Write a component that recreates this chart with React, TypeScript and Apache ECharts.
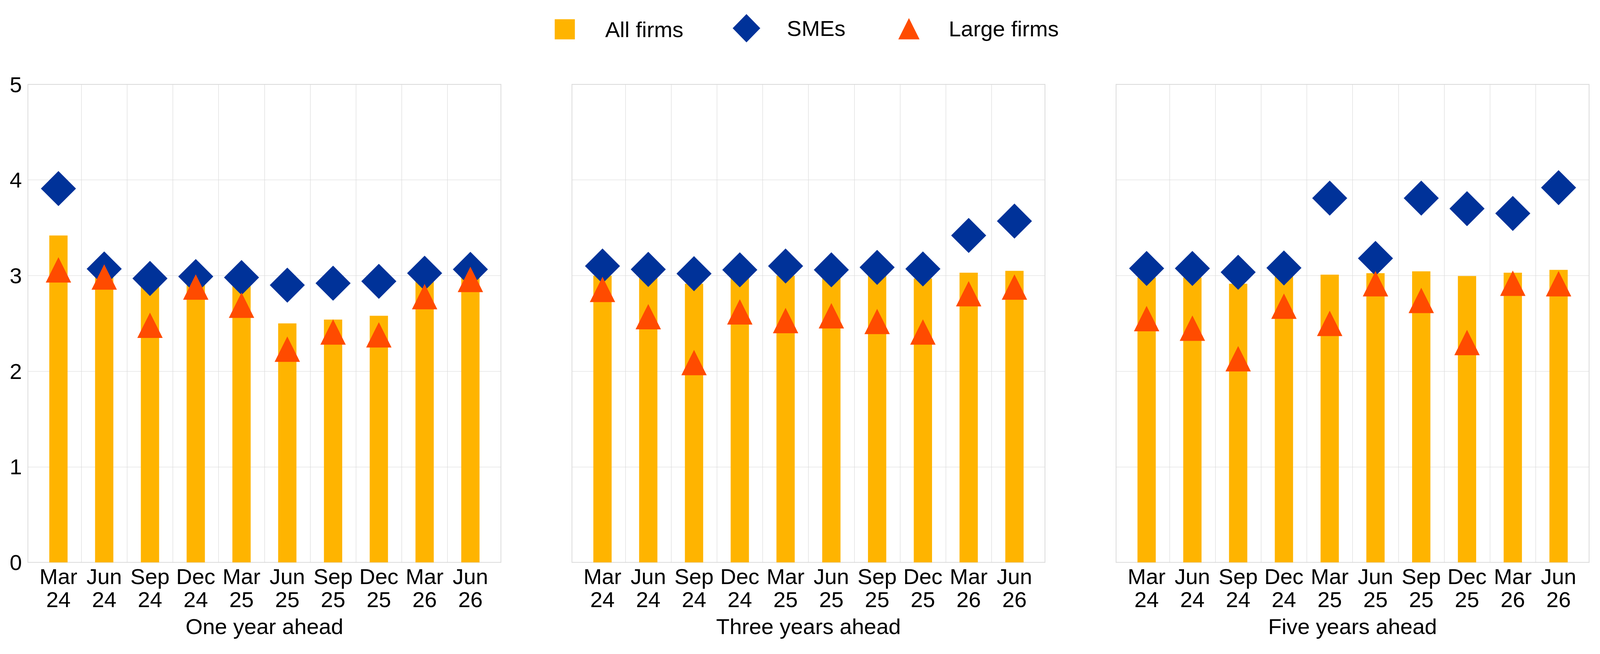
import React, { useRef, useEffect } from 'react';
import * as echarts from 'echarts';

// Survey: expected growth of selling prices, by firm size
const categories = ['Mar 24', 'Jun 24', 'Sep 24', 'Dec 24', 'Mar 25', 'Jun 25', 'Sep 25', 'Dec 25', 'Mar 26', 'Jun 26'];
const panelNames = ['One year ahead', 'Three years ahead', 'Five years ahead'];
const yTicks = [0, 1, 2, 3, 4, 5];

// one year ahead
const allFirms1 = [3.42, 2.98, 2.9, 2.93, 2.9, 2.5, 2.54, 2.58, 2.95, 3.0];
const smes1 = [3.91, 3.07, 2.97, 2.99, 2.98, 2.9, 2.92, 2.94, 3.025, 3.065];
const large1 = [3.06, 2.985, 2.48, 2.88, 2.69, 2.23, 2.41, 2.38, 2.78, 2.96];

// three years ahead
const allFirms3 = [3.0, 2.98, 2.915, 2.98, 3.0, 2.98, 3.0, 2.97, 3.03, 3.05];
const smes3 = [3.1, 3.065, 3.02, 3.06, 3.1, 3.06, 3.086, 3.07, 3.42, 3.57];
const large3 = [2.855, 2.57, 2.09, 2.62, 2.53, 2.58, 2.52, 2.41, 2.81, 2.88];

// five years ahead
const allFirms5 = [2.98, 2.98, 2.915, 2.99, 3.01, 3.025, 3.045, 2.995, 3.03, 3.06];
const smes5 = [3.075, 3.075, 3.035, 3.08, 3.81, 3.18, 3.81, 3.7, 3.65, 3.92];
const large5 = [2.55, 2.45, 2.13, 2.68, 2.5, 2.915, 2.74, 2.3, 2.92, 2.915];

const panels = [
  { all: allFirms1, sme: smes1, large: large1 },
  { all: allFirms3, sme: smes3, large: large3 },
  { all: allFirms5, sme: smes5, large: large5 },
];

const YELLOW = '#FFB400';
const BLUE = '#003299';
const ORANGE = '#FF4B00';
const GRID = '#d9d9d9';
const FONT = '"Liberation Sans", Arial, sans-serif';

// layout is measured on a 4289 x 1674 picture and scaled to the real viewport
const REF_W = 4289;
const REF_H = 1674;

export default function App() {
  const chartRef = useRef<HTMLDivElement>(null);

  useEffect(() => {
    if (!chartRef.current) return;
    const chart = echarts.init(chartRef.current, null, { renderer: 'svg' });
    const sx = chart.getWidth() / REF_W;
    const sy = chart.getHeight() / REF_H;
    const s = Math.min(sx, sy);

    const top = 216 * sy;
    const height = 1223.5 * sy;
    const innerLefts = [95.3, 1553.7, 3012.3];
    const innerWidth = 1227 * sx;
    const pad = 20.5 * sx;
    const fs = 59 * s;

    const grids: any[] = [];
    const xAxes: any[] = [];
    const yAxes: any[] = [];
    const series: any[] = [];

    innerLefts.forEach((l, p) => {
      const left = l * sx;
      // outer frame with horizontal grid lines
      grids.push({
        left: left - pad,
        top,
        width: innerWidth + pad * 2,
        height,
        show: true,
        borderColor: GRID,
        borderWidth: 2 * s,
        backgroundColor: 'transparent',
      });
      // inner grid holding the categories
      grids.push({ left, top, width: innerWidth, height });

      const fi = p * 2;
      const ii = p * 2 + 1;

      xAxes.push({ gridIndex: fi, type: 'value', min: 0, max: 1, show: false });
      yAxes.push({
        gridIndex: fi,
        type: 'value',
        min: yTicks[0],
        max: yTicks[yTicks.length - 1],
        interval: 1,
        axisLine: { show: false },
        axisTick: { show: false },
        axisLabel: {
          show: p === 0,
          margin: 16 * s,
          fontSize: fs,
          color: '#000',
          fontFamily: FONT,
        },
        splitLine: { show: true, lineStyle: { color: GRID, width: 1.2 * s } },
      });

      xAxes.push({
        gridIndex: ii,
        type: 'category',
        data: categories,
        boundaryGap: true,
        axisLine: { show: false },
        axisTick: { show: false },
        axisLabel: {
          interval: 0,
          margin: 7 * s,
          fontSize: fs,
          lineHeight: 62 * s,
          color: '#000',
          fontFamily: FONT,
          formatter: (v: string) => v.replace(' ', '\n'),
        },
        splitLine: {
          show: true,
          interval: 0,
          showMinLine: false,
          showMaxLine: false,
          lineStyle: { color: GRID, width: 1.2 * s },
        },
        name: panelNames[p],
        nameLocation: 'middle',
        nameGap: 142 * s,
        nameTextStyle: { fontSize: fs, color: '#000', fontFamily: FONT },
      });
      yAxes.push({ gridIndex: ii, type: 'value', min: 0, max: 5, show: false });

      const d = panels[p];
      series.push(
        {
          name: 'All firms',
          type: 'bar',
          xAxisIndex: ii,
          yAxisIndex: ii,
          data: d.all,
          barWidth: 49 * sx,
          itemStyle: { color: YELLOW },
        },
        {
          name: 'SMEs',
          type: 'scatter',
          xAxisIndex: ii,
          yAxisIndex: ii,
          data: d.sme,
          symbol: 'diamond',
          symbolSize: 94 * s,
          itemStyle: { color: BLUE, opacity: 1 },
        },
        {
          name: 'Large firms',
          type: 'scatter',
          xAxisIndex: ii,
          yAxisIndex: ii,
          data: d.large,
          symbol: 'triangle',
          symbolSize: 68 * s,
          itemStyle: { color: ORANGE, opacity: 1 },
        }
      );
    });

    const legendText = { fontSize: fs, color: '#000', fontFamily: FONT, lineHeight: 50 * s };

    chart.setOption({
      animation: false,
      backgroundColor: '#fff',
      legend: [
        {
          data: [{ name: 'All firms', icon: 'rect' }],
          left: 1487 * sx,
          top: 47 * sy,
          padding: 0,
          itemWidth: 54 * s,
          itemHeight: 54 * s,
          selectedMode: false,
          textStyle: { ...legendText, padding: [0, 0, 0, 76 * s] },
        },
        {
          data: [{ name: 'SMEs', icon: 'diamond' }],
          left: 1964 * sx,
          top: 36 * sy,
          padding: 0,
          itemWidth: 74 * s,
          itemHeight: 76 * s,
          selectedMode: false,
          textStyle: { ...legendText, padding: [0, 0, 0, 66 * s] },
        },
        {
          data: [{ name: 'Large firms', icon: 'triangle' }],
          left: 2408 * sx,
          top: 45.5 * sy,
          padding: 0,
          itemWidth: 57 * s,
          itemHeight: 57 * s,
          selectedMode: false,
          textStyle: { ...legendText, padding: [0, 0, 0, 73 * s] },
        },
      ],
      grid: grids,
      xAxis: xAxes,
      yAxis: yAxes,
      series,
    });

    const onResize = () => chart.resize();
    window.addEventListener('resize', onResize);
    return () => {
      window.removeEventListener('resize', onResize);
      chart.dispose();
    };
  }, []);

  return (
    <div
      ref={chartRef}
      style={{ position: 'fixed', left: 0, top: 0, width: '100vw', height: '100vh' }}
    />
  );
}
